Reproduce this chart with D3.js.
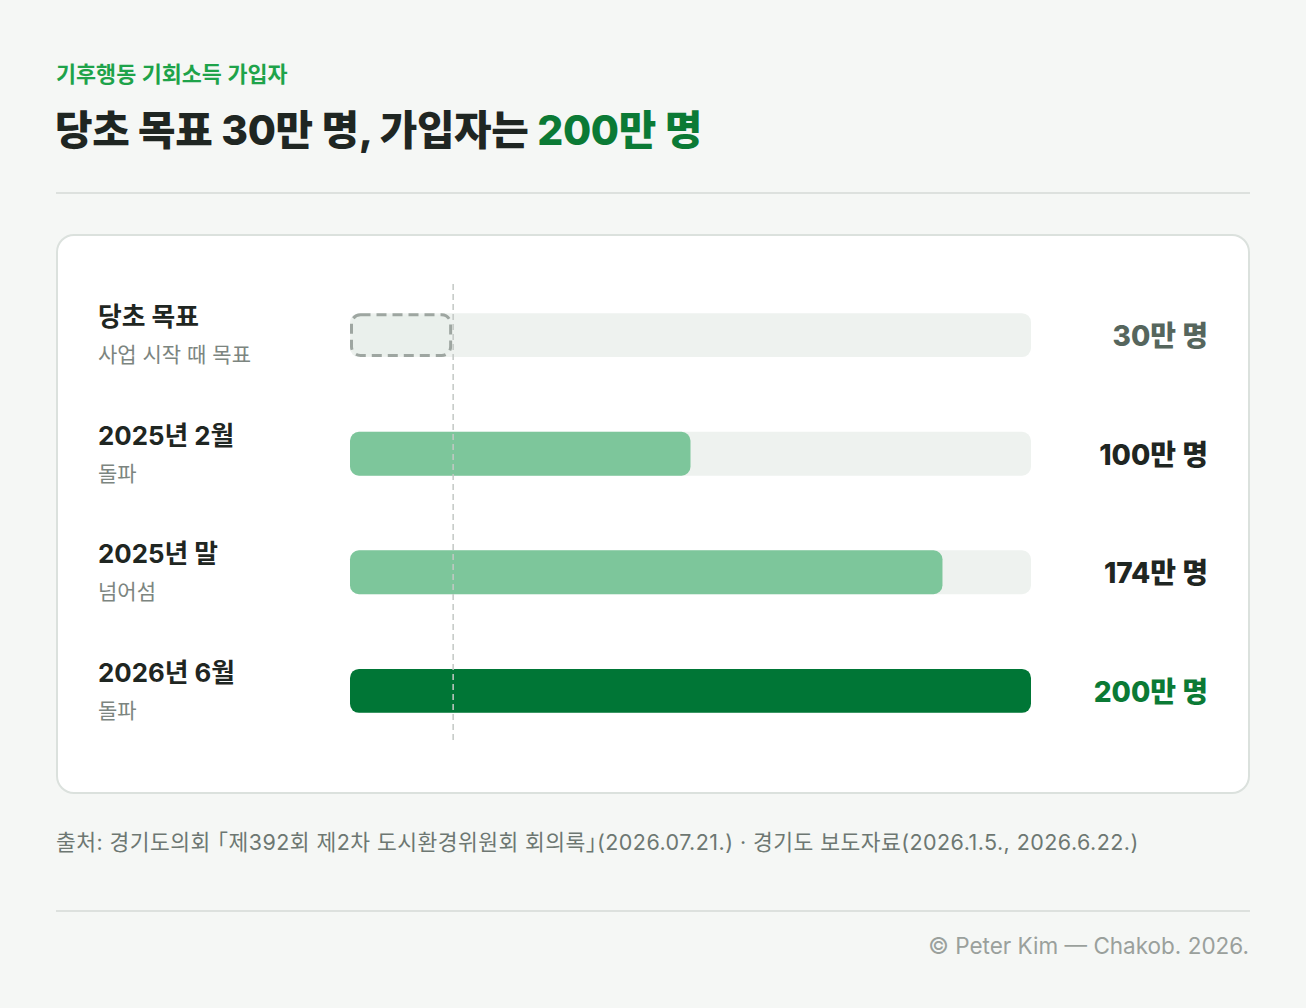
<!DOCTYPE html>
<html>
<head>
<meta charset="utf-8">
<script src="https://cdn.jsdelivr.net/npm/d3@7"></script>
<style>
  html, body { margin: 0; padding: 0; background: #f5f7f5; }
  svg { display: block; font-family: Inter, "Noto Sans CJK KR", sans-serif; }
</style>
</head>
<body>
<svg id="chart" width="1306" height="1008"></svg>
<script>
// data
var labels = ["당초 목표", "2025년 2월", "2025년 말", "2026년 6월"];
var notes = ["사업 시작 때 목표", "돌파", "넘어섬", "돌파"];
var values = [30, 100, 174, 200];
var valueLabels = ["30만 명", "100만 명", "174만 명", "200만 명"];
var kinds = ["goal", "mid", "mid", "final"];
var maxValue = 200;
var goalValue = 30;

var W = 1306, H = 1008;
var svg = d3.select("#chart");

svg.append("rect").attr("width", W).attr("height", H).attr("fill", "#f5f7f5");

// header
svg.append("text")
  .attr("x", 56).attr("y", 82)
  .attr("font-size", 21.8).attr("font-weight", 600)
  .attr("fill", "#1ea34a")
  .text("기후행동 기회소득 가입자");

var title = svg.append("text")
  .attr("x", 55).attr("y", 145)
  .attr("font-size", 40.8).attr("font-weight", 800)
  .attr("fill", "#1f2622")
  .attr("letter-spacing", -0.3);
title.append("tspan").text("당초 목표 30만 명, 가입자는 ");
title.append("tspan").attr("fill", "#0b7a35").text("200만 명");

svg.append("line")
  .attr("x1", 56).attr("x2", 1250).attr("y1", 193).attr("y2", 193)
  .attr("stroke", "#dde1de").attr("stroke-width", 2);

// card
svg.append("rect")
  .attr("x", 57).attr("y", 235).attr("width", 1192).attr("height", 558)
  .attr("rx", 17)
  .attr("fill", "#ffffff").attr("stroke", "#dbe1dd").attr("stroke-width", 2);

var x = d3.scaleLinear().domain([0, maxValue]).range([350, 1031]);
var y = d3.scaleBand().domain(labels).range([274, 752]).paddingInner(0.63).paddingOuter(0.33);

var rows = svg.append("g").selectAll("g")
  .data(labels)
  .join("g")
  .attr("transform", function(d) { return "translate(0," + y(d) + ")"; });

var bh = y.bandwidth();

// track
rows.append("rect")
  .attr("x", x(0)).attr("width", x(maxValue) - x(0))
  .attr("height", bh).attr("rx", 9)
  .attr("fill", "#eef2ef");

// bars
rows.append("rect")
  .attr("x", function(d, i) { return kinds[i] == "goal" ? x(0) + 1.5 : x(0); })
  .attr("y", function(d, i) { return kinds[i] == "goal" ? 1.5 : 0; })
  .attr("width", function(d, i) {
    var w = x(values[i]) - x(0);
    return kinds[i] == "goal" ? w - 3 : w;
  })
  .attr("height", function(d, i) { return kinds[i] == "goal" ? bh - 3 : bh; })
  .attr("rx", 9)
  .attr("fill", function(d, i) {
    if (kinds[i] == "goal") return "#eaf0ec";
    if (kinds[i] == "final") return "#007636";
    return "#7dc69b";
  })
  .attr("stroke", function(d, i) { return kinds[i] == "goal" ? "#9ea6a1" : "none"; })
  .attr("stroke-width", 3)
  .attr("stroke-dasharray", function(d, i) { return kinds[i] == "goal" ? "10 6" : null; });

// left labels
rows.append("text")
  .attr("x", 98).attr("y", 13)
  .attr("font-size", 25.8).attr("font-weight", 700)
  .attr("fill", "#1f2622")
  .text(function(d) { return d; });

rows.append("text")
  .attr("x", 98).attr("y", 49)
  .attr("font-size", 21)
  .attr("fill", "#7c8580")
  .text(function(d, i) { return notes[i]; });

// value labels
rows.append("text")
  .attr("x", 1208).attr("y", bh / 2 + 11)
  .attr("text-anchor", "end")
  .attr("font-size", 28).attr("font-weight", 800)
  .attr("fill", function(d, i) {
    if (kinds[i] == "goal") return "#56665d";
    if (kinds[i] == "final") return "#0b7a35";
    return "#1f2622";
  })
  .text(function(d, i) { return valueLabels[i]; });

// goal reference line
svg.append("line")
  .attr("x1", x(goalValue) + 1).attr("x2", x(goalValue) + 1)
  .attr("y1", 284).attr("y2", 744)
  .attr("stroke", "#c3c8c5").attr("stroke-width", 1.5)
  .attr("stroke-dasharray", "6 4");

// footer
svg.append("text")
  .attr("x", 56).attr("y", 850)
  .attr("font-size", 21.5)
  .attr("letter-spacing", 0.45)
  .attr("fill", "#6d7772")
  .text("출처: 경기도의회 ｢제392회 제2차 도시환경위원회 회의록｣(2026.07.21.) · 경기도 보도자료(2026.1.5., 2026.6.22.)");

svg.append("line")
  .attr("x1", 56).attr("x2", 1250).attr("y1", 911).attr("y2", 911)
  .attr("stroke", "#dde1de").attr("stroke-width", 2);

svg.append("text")
  .attr("x", 1249).attr("y", 954)
  .attr("text-anchor", "end")
  .attr("font-size", 22.5)
  .attr("fill", "#9aa09c")
  .text("© Peter Kim — Chakob. 2026.");
</script>
</body>
</html>
